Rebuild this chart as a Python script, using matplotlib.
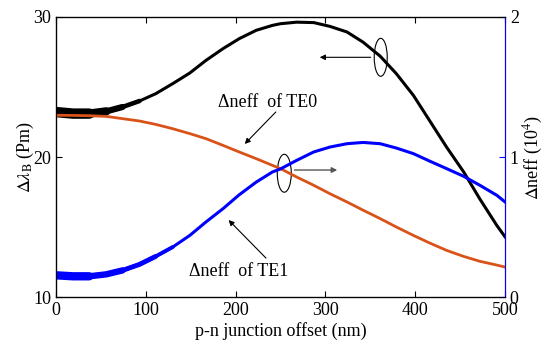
import matplotlib
matplotlib.use("Agg")
import matplotlib.pyplot as plt
from matplotlib.patches import Ellipse

plt.rcParams['font.family'] = ['Liberation Serif', 'DejaVu Serif']
plt.rcParams['mathtext.fontset'] = 'stix'

offset_nm = [0, 19, 37, 56, 74, 93, 111, 130, 149, 167, 186, 204, 223, 241, 250,
             268, 287, 305, 324, 342, 361, 379, 398, 416, 435, 454, 472, 491, 500]
dlambda_B = [23.21, 23.10, 23.10, 23.26, 23.57, 24.0, 24.52, 25.24, 26.0, 26.9,
             27.74, 28.45, 29.05, 29.4, 29.52, 29.63, 29.6, 29.33, 28.93, 28.2,
             27.2, 25.95, 24.4, 22.6, 20.7, 18.93, 17.0, 15.1, 14.3]
dneff_TE0 = [1.298, 1.297, 1.295, 1.29, 1.274, 1.257, 1.233, 1.202, 1.167, 1.131,
             1.083, 1.036, 0.988, 0.94, 0.917, 0.857, 0.798, 0.738, 0.679, 0.62,
             0.56, 0.5, 0.44, 0.386, 0.333, 0.29, 0.255, 0.228, 0.214]
dneff_TE1 = [0.155, 0.148, 0.148, 0.162, 0.19, 0.233, 0.29, 0.357, 0.44, 0.536,
             0.631, 0.73, 0.821, 0.893, 0.915, 0.976, 1.036, 1.071, 1.095, 1.104,
             1.095, 1.064, 1.024, 0.971, 0.917, 0.862, 0.798, 0.726, 0.679]

xticks = [0, 100, 200, 300, 400, 500]
yticks_left = [10, 20, 30]
yticks_right = [0, 1, 2]

fig = plt.figure(figsize=(5.5, 3.51), dpi=100)
ax = fig.add_axes([0.1018, 0.1538, 0.8164, 0.7978])
ax2 = ax.twinx()

ax.plot(offset_nm, dlambda_B, color='black', lw=2.2, zorder=3,
        solid_joinstyle='round')
# dense-marker look near the start (gradually thinner)
for n, w in [(3, 7.5), (4, 6.0), (5, 4.5), (6, 3.3)]:
    ax.plot(offset_nm[:n], dlambda_B[:n], color='black', lw=w,
            solid_capstyle='round', solid_joinstyle='round', zorder=3)

ax2.plot(offset_nm, dneff_TE0, color='#D95319', lw=2.0, solid_joinstyle='round')
ax2.plot(offset_nm, dneff_TE1, color='#0000FF', lw=2.2, solid_joinstyle='round')
for n, w in [(3, 6.0), (5, 4.6), (7, 3.5), (8, 2.8)]:
    ax2.plot(offset_nm[:n], dneff_TE1[:n], color='#0000FF', lw=w,
             solid_capstyle='round', solid_joinstyle='round')

ax.set_xlim(0, 500)
ax.set_ylim(10, 30)
ax2.set_ylim(0, 2)
ax.set_xticks(xticks)
ax.set_yticks(yticks_left)
ax2.set_yticks(yticks_right)

fs = 13
ax.tick_params(direction='in', labelsize=fs, top=True, length=4, width=0.8)
ax2.tick_params(direction='in', labelsize=fs, colors='#0000FF', labelcolor='black', length=4)
ax2.spines['right'].set_color('#0000FF')
for s in ['left', 'top', 'bottom']:
    ax.spines[s].set_linewidth(0.9)

ax.set_xlabel('p-n junction offset (nm)', fontsize=fs, labelpad=2)
ax.set_ylabel(r'$\Delta\lambda_{\mathrm{B}}$ $\mathregular{(Pm)}$', fontsize=fs, labelpad=-2)
ax2.set_ylabel(r'$\Delta$neff (10$^4$)', fontsize=fs, labelpad=2)

# annotations
ax.text(236, 23.86, 'Δneff  of TE0', fontsize=fs, ha='center', va='center')
ax.annotate('', xy=(208, 20.79), xytext=(247, 23.36),
            arrowprops=dict(arrowstyle='-|>', color='black', lw=0.8, mutation_scale=8))
ax.text(203, 11.79, 'Δneff  of TE1', fontsize=fs, ha='center', va='center')
ax.annotate('', xy=(190, 15.64), xytext=(236, 12.64),
            arrowprops=dict(arrowstyle='-|>', color='black', lw=0.8, mutation_scale=8))

ax.add_patch(Ellipse((361.6, 27.12), 14.5, 2.71, fill=False, lw=0.8, ec='black', zorder=4))
ax.annotate('', xy=(290.6, 27.12), xytext=(353.5, 27.12),
            arrowprops=dict(arrowstyle='-|>', color='black', lw=0.8, mutation_scale=8))
ax.add_patch(Ellipse((254.2, 18.84), 15.6, 2.71, fill=False, lw=0.8, ec='black', zorder=4))
ax.annotate('', xy=(316.3, 19.07), xytext=(262.5, 19.07),
            arrowprops=dict(arrowstyle='-|>', color='#555555', lw=1.0, mutation_scale=8))

fig.savefig('out.png', dpi=100)
